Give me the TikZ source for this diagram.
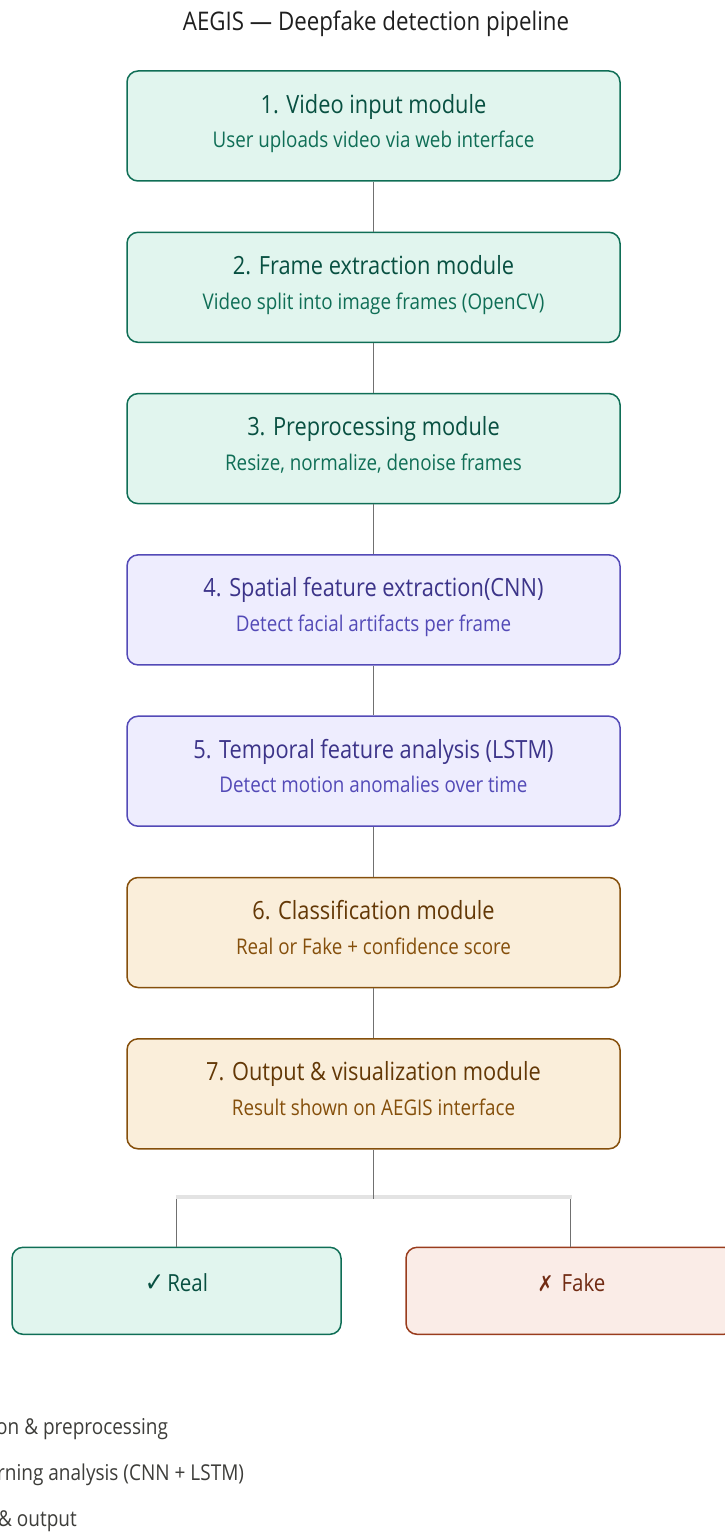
\documentclass[tikz,border=0pt]{standalone}
\usepackage{graphicx}
\usepackage{fontspec}
\setmainfont{Open Sans}
\newfontfamily\symfont{DejaVu Sans}
\definecolor{tealfill}{HTML}{E1F5EE}
\definecolor{tealline}{HTML}{0F6E56}
\definecolor{tealdark}{HTML}{085041}
\definecolor{purpfill}{HTML}{EEEDFE}
\definecolor{purpline}{HTML}{534AB7}
\definecolor{purpdark}{HTML}{3C3489}
\definecolor{ambfill}{HTML}{FAEEDA}
\definecolor{ambline}{HTML}{854F0B}
\definecolor{ambdark}{HTML}{633806}
\definecolor{corfill}{HTML}{FAECE7}
\definecolor{corline}{HTML}{993C1D}
\definecolor{cordark}{HTML}{712B13}
\definecolor{linkgray}{HTML}{707070}
\definecolor{railgray}{HTML}{E3E3E3}
\definecolor{inkgray}{HTML}{3D3D3A}
% tall text, as the labels are set slightly stretched
\newcommand{\tallbox}[1]{\scalebox{1}[1.15]{#1}}
\tikzset{
  stagebox/.style={draw, line width=1.5pt, rounded corners=11pt, minimum width=493pt, minimum height=110pt, inner sep=0pt},
  teal/.style={stagebox, fill=tealfill, draw=tealline},
  purp/.style={stagebox, fill=purpfill, draw=purpline},
  amb/.style={stagebox, fill=ambfill, draw=ambline},
  headtxt/.style={font=\fontsize{21.8}{24}\selectfont, inner sep=0pt, anchor=base},
  subtxt/.style={font=\fontsize{18.8}{20}\selectfont, inner sep=0pt, anchor=base},
  link/.style={draw=linkgray, line width=1.6pt},
  resultbox/.style={draw, line width=1.5pt, rounded corners=11pt, minimum width=329pt, minimum height=87pt, inner sep=0pt},
  legendtxt/.style={font=\fontsize{19}{20}\selectfont, text=inkgray, inner sep=0pt},
}
\begin{document}
\begin{tikzpicture}[x=1pt, y=-1pt]
\useasboundingbox (0,0) rectangle (725,1533);
\begin{scope}
\clip (0,0) rectangle (725,1533);

\node[font=\fontsize{22.3}{24}\selectfont, text=black!88, inner sep=0pt, anchor=base] (title) at (376,31) {\tallbox{AEGIS — Deepfake detection pipeline}};

% pipeline stages
\node[teal] (s1) at (373.5,126) {};
\node[teal] (s2) at (373.5,287.3) {};
\node[teal] (s3) at (373.5,448.6) {};
\node[purp] (s4) at (373.5,609.9) {};
\node[purp] (s5) at (373.5,771.2) {};
\node[amb]  (s6) at (373.5,932.5) {};
\node[amb]  (s7) at (373.5,1093.8) {};

\foreach \n/\h/\s/\hc/\sc in {
  s1/{1. Video input module}/{User uploads video via web interface}/tealdark/tealline,
  s2/{2. Frame extraction module}/{Video split into image frames (OpenCV)}/tealdark/tealline,
  s3/{3. Preprocessing module}/{Resize, normalize, denoise frames}/tealdark/tealline,
  s4/{4. Spatial feature extraction(CNN)}/{Detect facial artifacts per frame}/purpdark/purpline,
  s5/{5. Temporal feature analysis (LSTM)}/{Detect motion anomalies over time}/purpdark/purpline,
  s6/{6. Classification module}/{Real or Fake + confidence score}/ambdark/ambline,
  s7/{7. Output \& visualization module}/{Result shown on AEGIS interface}/ambdark/ambline} {
  \node[headtxt, text=\hc] (\n h) at ([yshift=-42.8pt]\n.north) {\tallbox{\h}};
  \node[subtxt, text=\sc] (\n s) at ([yshift=-77.5pt]\n.north) {\tallbox{\s}};
}

% links between stages
\draw[link] (s1.south) -- (s2.north);
\draw[link] (s2.south) -- (s3.north);
\draw[link] (s3.south) -- (s4.north);
\draw[link] (s4.south) -- (s5.north);
\draw[link] (s5.south) -- (s6.north);
\draw[link] (s6.south) -- (s7.north);

% verdict boxes
\node[resultbox, fill=tealfill, draw=tealline] (real) at (176.5,1290.8) {};
\node[resultbox, fill=corfill, draw=corline] (fake) at (570.5,1290.8) {};
\node[headtxt, font=\fontsize{20.5}{24}\selectfont, text=tealdark] (realt) at ([yshift=-45pt]real.north) {\tallbox{{\symfont\fontsize{23}{24}\selectfont ✓}\hspace{3pt}Real}};
\node[headtxt, font=\fontsize{20.5}{24}\selectfont, text=cordark] (faket) at ([xshift=1pt, yshift=-45pt]fake.north) {\tallbox{{\symfont\fontsize{19}{20}\selectfont ✗}\hspace{8pt}Fake}};

% branch to the two verdicts
\coordinate (fork) at (373.5,1199);
\coordinate (forkl) at (real.north |- fork);
\coordinate (forkr) at (fake.north |- fork);
\draw[draw=railgray, line width=4pt] ([xshift=-1pt, yshift=2pt]forkl) -- ([xshift=1pt, yshift=2pt]forkr);
\draw[link] (s7.south) -- (fork);
\draw[link] (forkl) -- (real.north);
\draw[link] (forkr) -- (fake.north);

% legend
\node[legendtxt, anchor=base west] (lg1) at (-4,1434) {\tallbox{on \& preprocessing}};
\node[legendtxt, anchor=base west] (lg2) at (-3,1480) {\tallbox{rning analysis (CNN + LSTM)}};
\node[legendtxt, anchor=base east] (lg3) at (77,1526) {\tallbox{\& output}};
\end{scope}
\end{tikzpicture}
\end{document}
